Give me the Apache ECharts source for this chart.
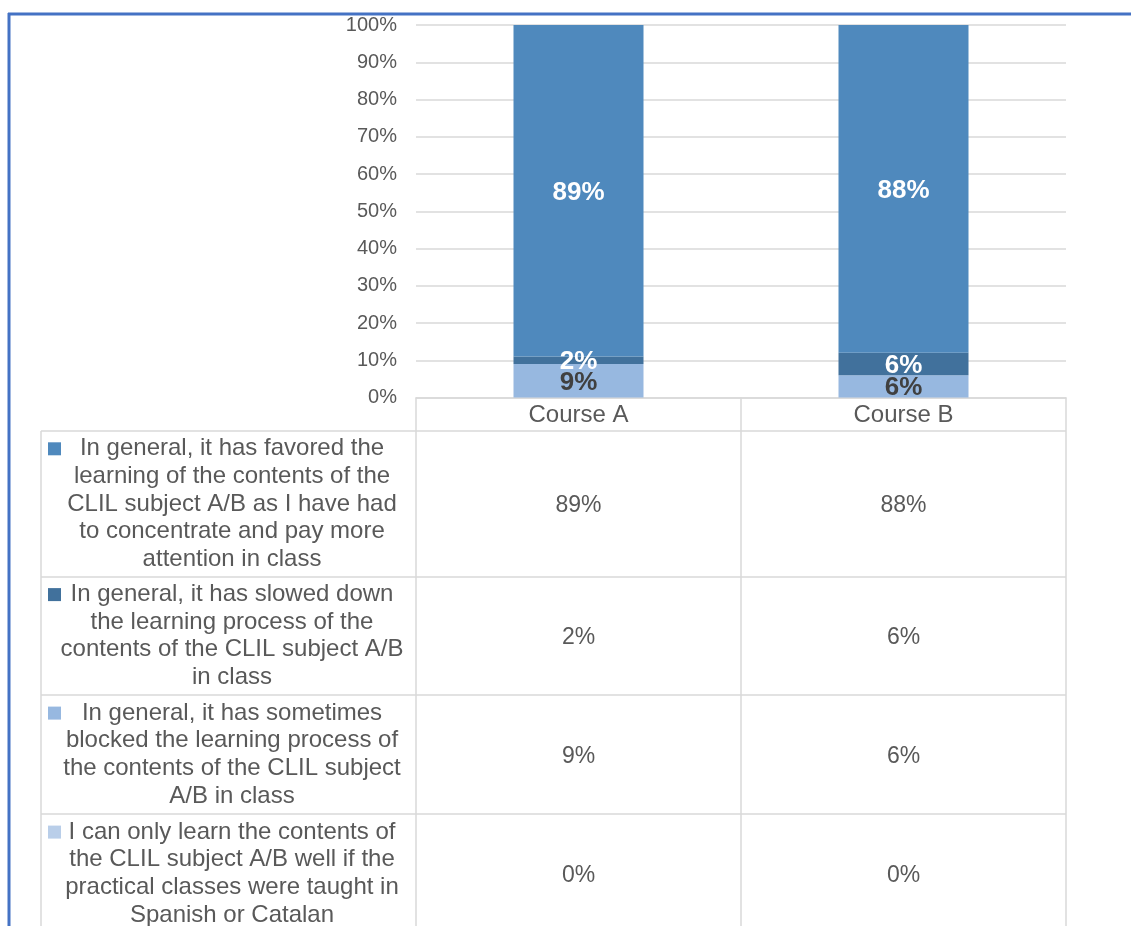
<!DOCTYPE html>
<html>
<head>
<meta charset="utf-8">
<script src="https://cdn.jsdelivr.net/npm/echarts@6/dist/echarts.min.js"></script>
<style>html,body{margin:0;padding:0;background:#fff;}#c{width:1131px;height:926px;}</style>
</head>
<body>
<div id="c"></div>
<script>
var categories = ['Course A', 'Course B'];
var seriesNames = [
  'In general, it has favored the\nlearning of the contents of the\nCLIL subject A/B as I have had\nto concentrate and pay more\nattention in class',
  'In general, it has slowed down\nthe learning process of the\ncontents of the CLIL subject A/B\nin class',
  'In general, it has sometimes\nblocked the learning process of\nthe contents of the CLIL subject\nA/B in class',
  'I can only learn the contents of\nthe CLIL subject A/B well if the\npractical classes were taught in\nSpanish or Catalan'
];
var favored = [89, 88];
var slowed = [2, 6];
var blocked = [9, 6];
var onlySpanish = [0, 0];
var yTicks = [0, 10, 20, 30, 40, 50, 60, 70, 80, 90, 100];

(function () {
var values = [favored, slowed, blocked, onlySpanish];
var colors = ['#4F89BD', '#41719C', '#97B8E0', '#B9CEE9'];
var labelColors = ['#FFFFFF', '#FFFFFF', '#404040', '#404040'];
var stackOrder = [2, 1, 0, 3];
var FONT = '"Liberation Sans", Arial, sans-serif';
var GRAY = '#595959';
var LINE = '#D9D9D9';

var chart = echarts.init(document.getElementById('c'));
var series = stackOrder.map(function (i) {
  return {
    name: seriesNames[i],
    type: 'bar',
    stack: 'total',
    barWidth: '40%',
    data: values[i],
    itemStyle: { color: colors[i] },
    label: {
      show: true,
      position: 'inside',
      offset: [0, 2],
      color: labelColors[i],
      fontFamily: FONT,
      fontWeight: 'bold',
      fontSize: 26,
      formatter: function (p) { return p.value > 0 ? p.value + '%' : ''; }
    },
    emphasis: { disabled: true }
  };
});

var gridLeft = 416, gridRight = 65, gridTop = 25, gridBottomY = 397.5;
chart.setOption({
  animation: false,
  grid: { left: gridLeft, right: gridRight, top: gridTop, bottom: 926 - gridBottomY },
  xAxis: {
    type: 'category',
    data: categories,
    axisLine: { show: true, lineStyle: { color: LINE, width: 1.5 } },
    axisTick: { show: false },
    axisLabel: { color: GRAY, fontFamily: FONT, fontSize: 24, margin: 6 }
  },
  yAxis: {
    type: 'value',
    min: 0, max: 100, interval: 10,
    axisLine: { show: false },
    axisTick: { show: false },
    splitLine: { lineStyle: { color: LINE, width: 1.5 } },
    axisLabel: { color: GRAY, fontFamily: FONT, fontSize: 20, margin: 19,
      formatter: function (v) { return yTicks.indexOf(v) >= 0 ? v + '%' : ''; } }
  },
  series: series
});

var rowBounds = [431, 577, 695, 814, 933];
var tableLeft = 41, plotLeft = gridLeft, plotRight = 1131 - gridRight;
var colX = categories.map(function (c) { return chart.convertToPixel({ xAxisIndex: 0 }, c); });
var midX = (colX[0] + colX[1]) / 2;
var g = [];
function line(x1, y1, x2, y2, color, w) {
  g.push({ type: 'line', shape: { x1: x1, y1: y1, x2: x2, y2: y2 }, style: { stroke: color, lineWidth: w }, silent: true });
}
line(tableLeft, rowBounds[0], tableLeft, 926, LINE, 1.5);
line(plotLeft, gridBottomY, plotLeft, 926, LINE, 1.5);
line(midX, gridBottomY, midX, 926, LINE, 1.5);
line(plotRight, gridBottomY, plotRight, 926, LINE, 1.5);
for (var r = 0; r < rowBounds.length; r++) line(tableLeft, rowBounds[r], plotRight, rowBounds[r], LINE, 1.5);

var LH = 27.6;
for (var i = 0; i < seriesNames.length; i++) {
  var rowTop = rowBounds[i], rowBot = rowBounds[i + 1];
  var cy = (rowTop + rowBot) / 2;
  var nLines = seriesNames[i].split('\n').length;
  var firstCy = cy - (nLines - 1) / 2 * LH;
  g.push({ type: 'rect', shape: { x: 48, y: firstCy - 6.5, width: 13, height: 13 }, style: { fill: colors[i] }, silent: true });
  g.push({ type: 'text', style: { x: 232, y: cy, text: seriesNames[i], fill: GRAY, font: '24px ' + FONT, align: 'center', verticalAlign: 'middle', lineHeight: LH }, silent: true });
  for (var k = 0; k < categories.length; k++) {
    g.push({ type: 'text', style: { x: colX[k], y: cy + 2, text: values[i][k] + '%', fill: GRAY, font: '23px ' + FONT, align: 'center', verticalAlign: 'middle' }, silent: true });
  }
}
line(8, 14, 1131, 14, '#4472C4', 3);
line(9, 13, 9, 926, '#4472C4', 3);

chart.setOption({ graphic: g });
})();
</script>
</body>
</html>
